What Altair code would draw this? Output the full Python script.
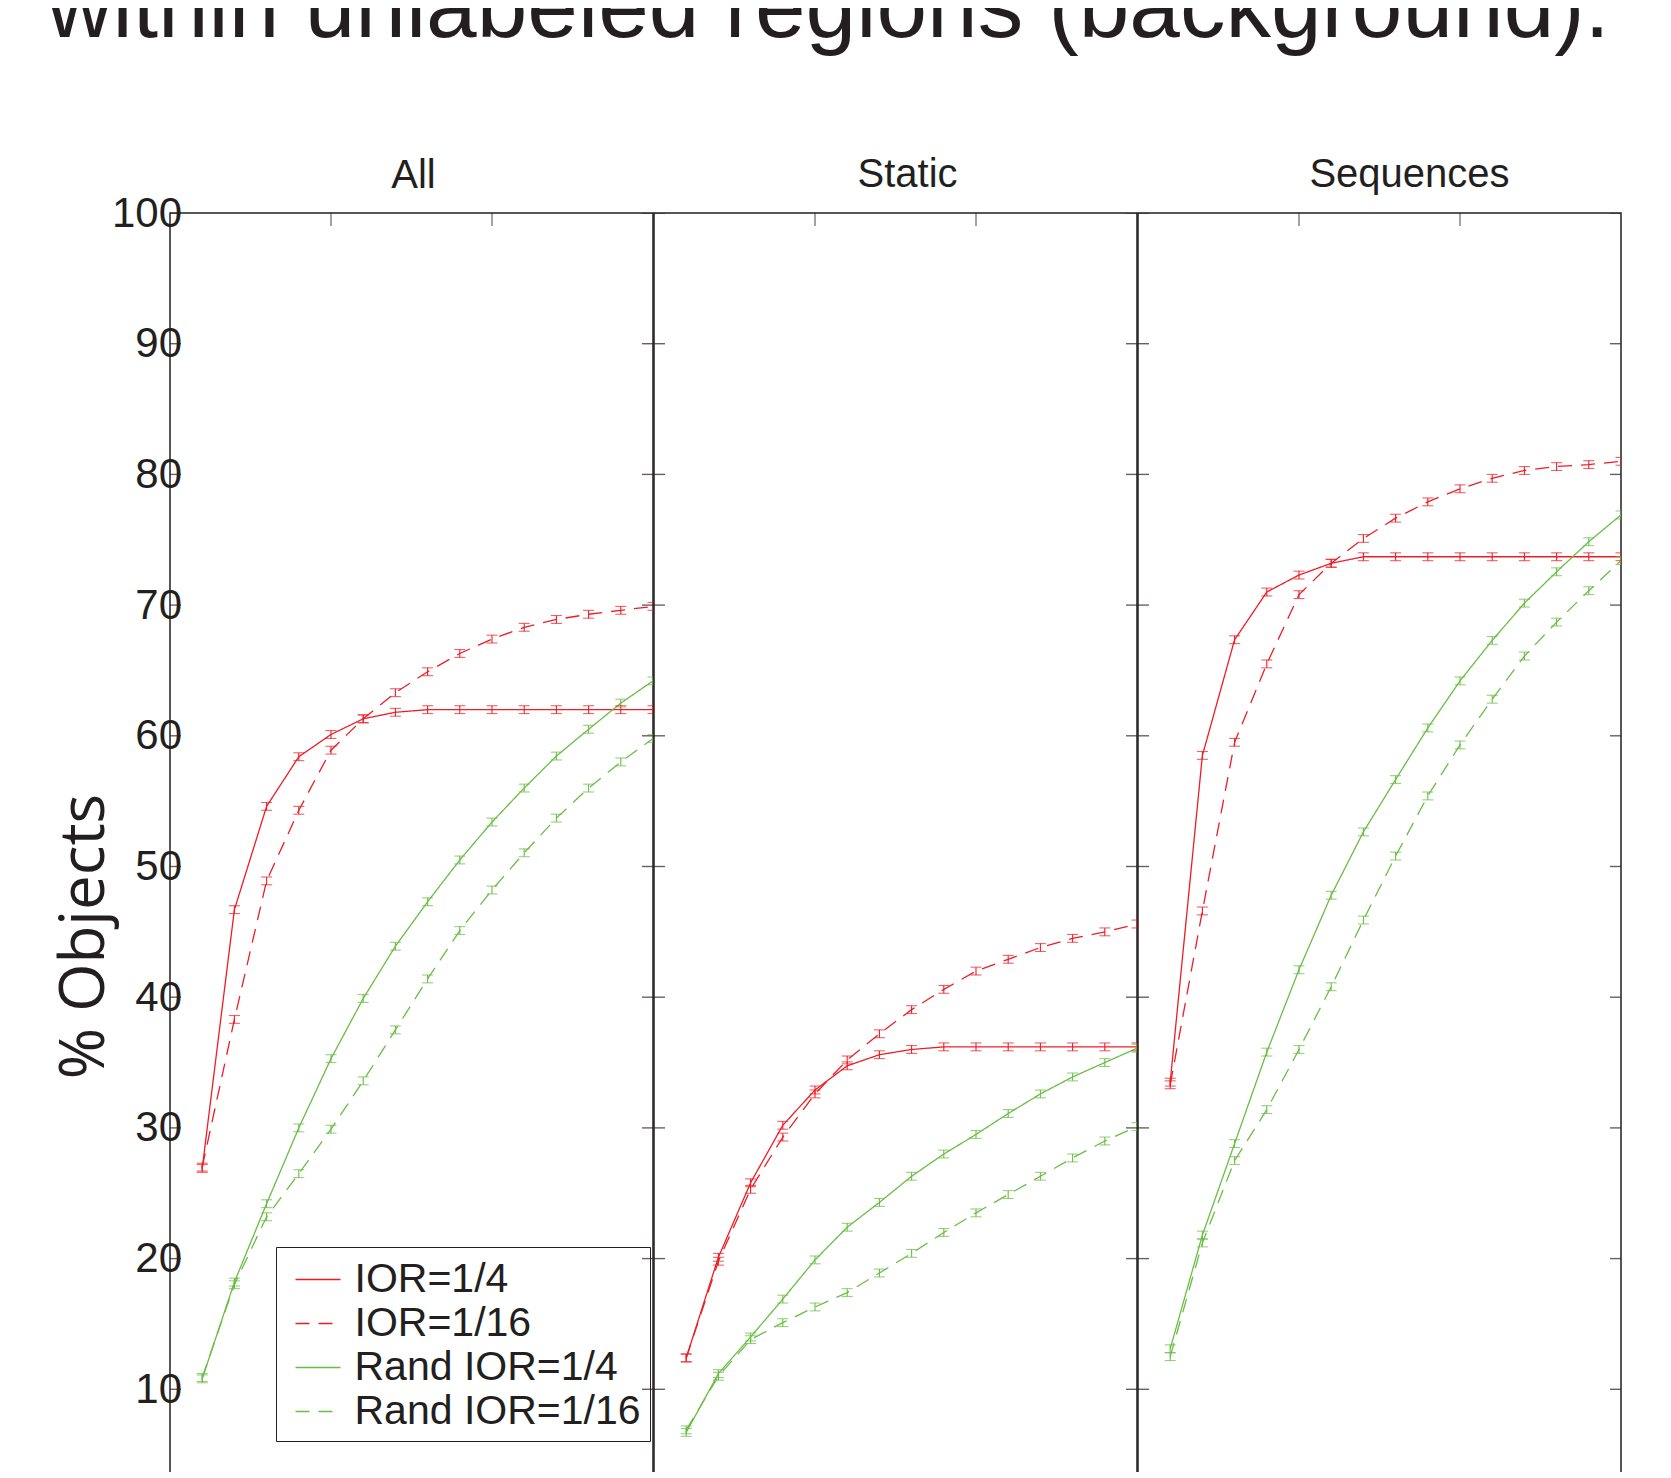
import altair as alt
import pandas as pd

# ---------------- data ----------------
X = list(range(1, 16))
X_DOMAIN = [0, 15]
Y_DOMAIN = [0, 100]
X_TICKS = [5, 10]
Y_TICKS = [10, 20, 30, 40, 50, 60, 70, 80, 90, 100]

SERIES = ["IOR=1/4", "IOR=1/16", "Rand IOR=1/4", "Rand IOR=1/16"]
PANELS = ["All", "Static", "Sequences"]

ALL_IOR4 = [26.9, 46.7, 54.6, 58.4, 60.1, 61.3, 61.8, 62.0, 62.0, 62.0, 62.0, 62.0, 62.0, 62.0, 62.0]
ALL_IOR16 = [27.0, 38.3, 48.9, 54.3, 58.9, 61.3, 63.3, 64.9, 66.3, 67.4, 68.3, 68.9, 69.3, 69.6, 69.9]
ALL_RAND4 = [10.8, 18.2, 24.2, 30.0, 35.3, 39.9, 43.9, 47.3, 50.5, 53.4, 56.0, 58.45, 60.5, 62.5, 64.2]
ALL_RAND16 = [10.9, 18.0, 23.2, 26.5, 29.9, 33.6, 37.5, 41.4, 45.1, 48.2, 51.05, 53.7, 56.0, 58.0, 59.8]

STATIC_IOR4 = [12.4, 20.1, 25.8, 30.2, 32.9, 34.75, 35.6, 36.0, 36.2, 36.2, 36.2, 36.2, 36.2, 36.2, 36.2]
STATIC_IOR16 = [12.4, 19.8, 25.3, 29.3, 32.6, 35.2, 37.2, 39.05, 40.6, 42.0, 42.9, 43.8, 44.5, 45.0, 45.6]
STATIC_RAND4 = [6.7, 11.2, 14.0, 16.9, 19.9, 22.4, 24.3, 26.3, 28.0, 29.5, 31.1, 32.6, 33.9, 35.0, 36.1]
STATIC_RAND16 = [6.9, 11.0, 13.8, 15.1, 16.3, 17.4, 18.9, 20.4, 22.0, 23.5, 24.9, 26.3, 27.7, 29.0, 30.1]

SEQ_IOR4 = [33.5, 58.5, 67.35, 71.0, 72.3, 73.2, 73.7, 73.7, 73.7, 73.7, 73.7, 73.7, 73.7, 73.7, 73.7]
SEQ_IOR16 = [33.3, 46.6, 59.5, 65.5, 70.8, 73.2, 75.1, 76.65, 77.9, 78.9, 79.7, 80.3, 80.6, 80.75, 81.0]
SEQ_RAND4 = [13.1, 21.8, 28.8, 35.8, 42.1, 47.8, 52.65, 56.65, 60.6, 64.2, 67.3, 70.15, 72.55, 74.85, 76.9]
SEQ_RAND16 = [12.5, 21.2, 27.5, 31.4, 36.0, 40.8, 45.9, 50.8, 55.4, 59.3, 62.8, 66.1, 68.7, 71.1, 73.4]

ERR = {"IOR=1/4": 0.3, "IOR=1/16": 0.3, "Rand IOR=1/4": 0.3, "Rand IOR=1/16": 0.3}

PANEL_VALUES = {
    "All": [ALL_IOR4, ALL_IOR16, ALL_RAND4, ALL_RAND16],
    "Static": [STATIC_IOR4, STATIC_IOR16, STATIC_RAND4, STATIC_RAND16],
    "Sequences": [SEQ_IOR4, SEQ_IOR16, SEQ_RAND4, SEQ_RAND16],
}

TITLE = "within unlabeled regions (background)."
Y_TITLE = "% Objects"

# ---------------- style ----------------
RED = "#ee1d25"
GREEN = "#6abd45"
INK = "#231f20"
FONT = "Liberation Sans"
PANEL_W = 483
PANEL_H = 1307
TITLE_DX = {"All": 2, "Static": 12, "Sequences": 30}
TITLE_OFFSET = {"All": -43.7, "Static": -22.4, "Sequences": -22.4}
VIEW = alt.ViewBackground(stroke=INK, strokeWidth=1.5, fill="white")


def panel_frame(name):
    rows = []
    for s, vals in zip(SERIES, PANEL_VALUES[name]):
        for x, v in zip(X, vals):
            rows.append({"x": x, "y": v, "lo": v - ERR[s], "hi": v + ERR[s], "series": s})
    return pd.DataFrame(rows)


def make_panel(name, first):
    df = panel_frame(name)
    xs = alt.Scale(domain=X_DOMAIN, nice=False, zero=False)
    ys = alt.Scale(domain=Y_DOMAIN, nice=False, zero=False)
    cscale = alt.Scale(domain=SERIES, range=[RED, RED, GREEN, GREEN])
    dscale = alt.Scale(domain=SERIES, range=[[1, 0], [14, 9], [1, 0], [14, 9]])

    if first:
        legend = alt.Legend(
            orient="none", legendX=106, legendY=1034, title=None,
            symbolType="stroke", symbolSize=2025, symbolStrokeWidth=1.4,
            symbolOffset=9.5,
            labelFont=FONT, labelFontSize=41, labelColor=INK, labelOffset=13,
            labelLimit=0, strokeColor=INK, padding=9, rowPadding=0,
        )
        yaxis = alt.Axis(
            values=Y_TICKS, ticks=False, domain=False, grid=False,
            labelFont=FONT, labelFontSize=42, labelColor=INK, labelPadding=-11.5,
            title=Y_TITLE, titleFont="Open Sans", titleFontSize=62,
            titleFontWeight="normal", titleColor=INK, titlePadding=-5,
            titleY=723,
        )
    else:
        legend = None
        yaxis = None

    base = alt.Chart(df)
    xenc = alt.X("x:Q", scale=xs, axis=None)

    lines = base.mark_line(strokeWidth=1.3, clip=True).encode(
        x=xenc,
        y=alt.Y("y:Q", scale=ys, axis=yaxis),
        color=alt.Color("series:N", scale=cscale, legend=legend),
        strokeDash=alt.StrokeDash("series:N", scale=dscale, legend=legend),
        order="x:Q",
    )
    ccol = alt.Color("series:N", scale=cscale, legend=None)
    err = base.mark_rule(strokeWidth=1.1, clip=True).encode(
        x=xenc, y=alt.Y("lo:Q", scale=ys, axis=yaxis), y2="hi:Q", color=ccol
    )
    cap_lo = base.mark_tick(orient="horizontal", size=11, thickness=1.1, clip=True).encode(
        x=xenc, y=alt.Y("lo:Q", scale=ys, axis=yaxis), color=ccol
    )
    cap_hi = base.mark_tick(orient="horizontal", size=11, thickness=1.1, clip=True).encode(
        x=xenc, y=alt.Y("hi:Q", scale=ys, axis=yaxis), color=ccol
    )

    ytk = alt.Chart(pd.DataFrame({"v": Y_TICKS}))
    xtk = alt.Chart(pd.DataFrame({"v": X_TICKS}))
    left_ticks = ytk.mark_tick(orient="horizontal", size=22, thickness=1.4, color=INK, clip=True).encode(
        x=alt.XDatum(X_DOMAIN[0], type="quantitative", scale=xs, axis=None),
        y=alt.Y("v:Q", scale=ys, axis=yaxis),
    )
    right_ticks = ytk.mark_tick(orient="horizontal", size=22, thickness=1.4, color=INK, clip=True).encode(
        x=alt.XDatum(X_DOMAIN[1], type="quantitative", scale=xs, axis=None),
        y=alt.Y("v:Q", scale=ys, axis=yaxis),
    )
    top_ticks = xtk.mark_tick(orient="vertical", size=26, thickness=1.2, color=INK, clip=True).encode(
        x=alt.X("v:Q", scale=xs, axis=None),
        y=alt.YDatum(Y_DOMAIN[1], type="quantitative", scale=ys, axis=yaxis),
    )

    return alt.layer(lines, err, cap_lo, cap_hi, left_ticks, right_ticks, top_ticks).properties(
        width=PANEL_W,
        height=PANEL_H,
        view=VIEW,
        title=alt.TitleParams(
            name, font=FONT, fontSize=40, fontWeight="normal", color=INK,
            baseline="bottom", offset=TITLE_OFFSET[name], dx=TITLE_DX[name],
        ),
    )


panels = [make_panel(n, i == 0) for i, n in enumerate(PANELS)]

chart = (
    alt.hconcat(*panels, spacing=-3)
    .resolve_scale(x="independent", y="independent", color="independent", strokeDash="independent")
    .properties(
        title=alt.TitleParams(
            TITLE, font=FONT, fontSize=91, fontWeight="normal", color=INK,
            anchor="middle", frame="bounds", baseline="bottom", offset=8, dx=-8.9,
        ),
        padding={"top": -45, "bottom": -49, "left": 38, "right": 10},
    )
    .configure_view(stroke=INK, strokeWidth=1.5)
    .configure(background="white")
)

chart.save("out.html", embed_options={"renderer": "svg", "actions": False})
